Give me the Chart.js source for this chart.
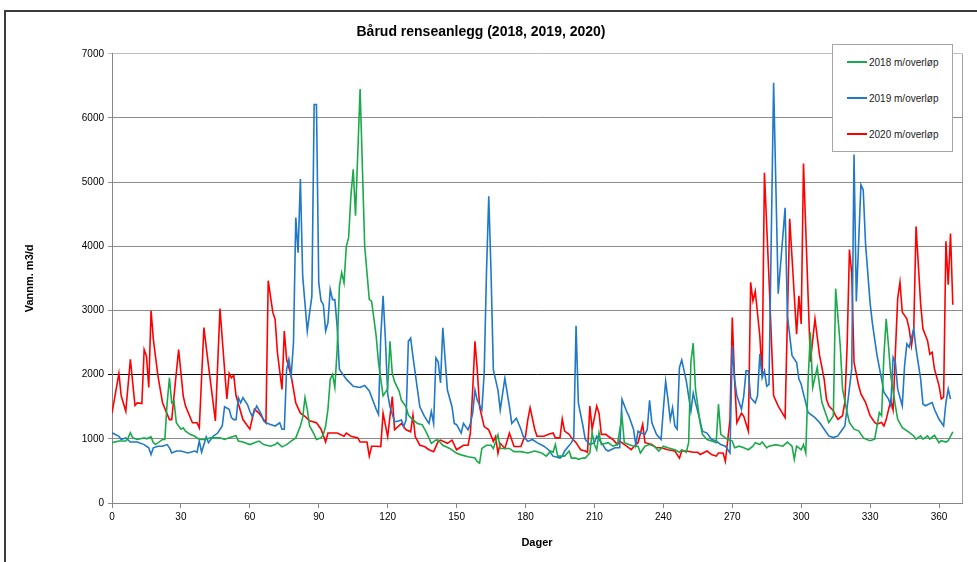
<!DOCTYPE html>
<html lang="no">

<head>
  <meta charset="UTF-8">
  <title>Bårud renseanlegg</title>
  <script src="https://cdn.jsdelivr.net/npm/chart.js"></script>
  <style>
    body {
      margin: 0;
      background-color: #ffffff;
    }

    .wrap {
      position: relative;
      width: 977px;
      height: 562px;
      overflow: hidden;
    }

    .frame {
      position: absolute;
      left: 4px;
      top: 10px;
      width: 990px;
      height: 570px;
      border-top: 2px solid #3c3c3c;
      border-left: 2px solid #3c3c3c;
      pointer-events: none;
    }

    .legend {
      position: absolute;
      left: 832px;
      top: 44px;
      width: 119px;
      height: 106px;
      border: 1px solid #a6a6a6;
      background: #fff;
    }

    .legend ul {
      list-style: none;
      margin: 0;
      padding: 0;
    }

    .legend-item {
      position: absolute;
      left: 14px;
      height: 12px;
      display: flex;
      align-items: center;
      font: 10px "Liberation Sans", Arial, sans-serif;
      color: #222;
    }

    .legend-item .color-box {
      width: 20px;
      height: 2px;
      margin-right: 2px;
    }

    .legend-item p {
      margin: 0;
    }
  </style>
</head>

<body>
  <div class="wrap">
    <canvas id="chartVann" width="977" height="562"></canvas>
    <div class="frame"></div>
    <div id="legend-container" class="legend"></div>
  </div>

  <script>
    // dag i året -> vannmengde (m3/d), lest av fra figuren
    const days2018 = [0, 3, 6, 7, 8, 9, 11, 14, 15, 17,
      18, 19, 22, 23, 24, 25, 26, 27, 28, 30,
      31, 32, 34, 36, 38, 40, 43, 45, 47, 49,
      51, 54, 55, 57, 60, 62, 64, 66, 69, 71,
      72, 74, 76, 78, 80, 82, 83, 84, 85, 86,
      88, 89, 91, 92, 93, 94, 95, 96, 97, 98,
      99, 100, 101, 102, 103, 104, 105, 106, 108, 110,
      112, 113, 115, 116, 118, 120, 121, 122, 123, 125,
      126, 128, 129, 131, 133, 135, 137, 139, 141, 142,
      144, 147, 150, 152, 155, 158, 159, 160, 161, 163,
      165, 166, 168, 169, 171, 173, 175, 178, 181, 184,
      187, 189, 191, 192, 193, 194, 197, 199, 200, 202,
      203, 205, 206, 208, 209, 210, 211, 212, 213, 216,
      218, 220, 222, 223, 225, 227, 229, 230, 232, 234,
      236, 238, 240, 242, 245, 247, 248, 250, 251, 252,
      253, 254, 256, 257, 259, 261, 263, 264, 265, 267,
      268, 270, 271, 273, 275, 277, 279, 280, 282, 283,
      285, 286, 289, 292, 294, 296, 297, 298, 300, 301,
      302, 303, 304, 305, 307, 308, 309, 311, 312, 314,
      315, 317, 318, 320, 321, 323, 325, 327, 328, 330,
      332, 333, 334, 335, 336, 337, 338, 339, 341, 342,
      344, 347, 349, 350, 352, 353, 355, 356, 358, 360,
      361, 363, 364, 366];
    const vann2018 = [940, 965, 965, 1015, 1095, 1015, 990, 1015, 1000, 1030,
      940, 910, 990, 990, 1560, 1950, 1560, 1590, 1250, 1150,
      1170, 1120, 1070, 1040, 990, 990, 1015, 1015, 1015, 990,
      1015, 1050, 965, 950, 910, 940, 965, 910, 885, 910,
      940, 875, 910, 965, 1015, 1200, 1330, 1640, 1460, 1200,
      1070, 990, 1015, 1070, 1200, 1460, 1930, 2005, 1800, 2390,
      3380, 3590, 3430, 4000, 4135, 4790, 5200, 4475, 6450, 4000,
      3170, 3145, 2600, 2190, 1670, 1780, 2520, 2020, 1890, 1740,
      1600, 1500, 1370, 1295, 1240, 1220, 1090, 930, 980, 980,
      900, 850, 775, 750, 720, 700, 645, 620, 850, 900,
      900, 850, 1060, 850, 850, 850, 800, 800, 780, 810,
      780, 730, 810, 790, 910, 730, 730, 810, 700, 700,
      680, 700, 700, 780, 1095, 910, 830, 1095, 910, 940,
      885, 910, 1355, 940, 910, 885, 885, 780, 885, 910,
      885, 810, 885, 860, 830, 790, 830, 790, 940, 2200,
      2490, 1770, 1250, 1070, 990, 965, 940, 1540, 1070, 1015,
      990, 965, 860, 885, 860, 830, 885, 940, 910, 950,
      860, 885, 910, 885, 950, 885, 680, 885, 830, 910,
      780, 1900, 2660, 1800, 2115, 1830, 1570, 1360, 1255, 1360,
      3340, 2450, 1775, 1410, 1255, 1150, 1125, 1020, 995, 970,
      995, 1200, 1410, 1360, 2295, 2870, 2450, 1985, 1515, 1305,
      1175, 1100, 1045, 995, 1045, 995, 1045, 995, 1055, 940,
      970, 950, 970, 1110];

    const days2019 = [0, 3, 4, 6, 8, 11, 14, 16, 17, 18,
      20, 22, 24, 25, 26, 28, 30, 33, 36, 37,
      38, 39, 41, 42, 44, 46, 48, 49, 51, 52,
      53, 54, 55, 56, 57, 59, 60, 61, 63, 65,
      66, 67, 69, 71, 73, 74, 75, 76, 77, 78,
      79, 80, 81, 82, 83, 85, 86, 87, 88, 89,
      90, 91, 92, 93, 94, 95, 96, 97, 98, 99,
      102, 105, 108, 110, 112, 115, 116, 117, 118, 119,
      120, 121, 123, 124, 126, 127, 128, 129, 130, 131,
      133, 134, 136, 138, 139, 140, 141, 142, 143, 144,
      146, 148, 149, 150, 152, 153, 155, 156, 157, 158,
      159, 161, 162, 163, 164, 165, 166, 168, 169, 171,
      173, 174, 176, 178, 179, 181, 183, 185, 188, 190,
      191, 192, 195, 196, 197, 200, 201, 202, 203, 205,
      206, 208, 210, 211, 213, 215, 216, 219, 221, 222,
      224, 225, 227, 228, 229, 230, 232, 233, 234, 235,
      237, 239, 240, 241, 242, 243, 244, 245, 246, 247,
      248, 250, 252, 253, 254, 256, 257, 259, 261, 263,
      265, 267, 269, 270, 271, 272, 274, 275, 276, 277,
      278, 280, 281, 282, 283, 284, 285, 286, 288, 290,
      293, 294, 296, 298, 299, 300, 301, 302, 303, 304,
      306, 308, 310, 312, 314, 316, 317, 319, 320, 322,
      323, 324, 326, 327, 328, 330, 331, 333, 335, 336,
      338, 339, 340, 341, 342, 344, 345, 346, 347, 349,
      350, 352, 353, 354, 357, 358, 360, 361, 362, 363,
      364, 365];
    const vann2019 = [1095, 1040, 990, 1015, 950, 950, 910, 860, 755, 860,
      885, 885, 910, 860, 780, 810, 810, 780, 810, 790,
      965, 790, 1030, 940, 1040, 1090, 1200, 1500, 1460, 1330,
      1300, 1300, 1640, 1560, 1640, 1530, 1430, 1350, 1510, 1380,
      1280, 1250, 1225, 1200, 1250, 1150, 1150, 2080, 2240, 1980,
      2500, 4450, 3900, 5050, 3540, 2680, 2960, 3220, 6210, 6210,
      3430, 3150, 3090, 2680, 2810, 3330, 3170, 3170, 2750, 2080,
      1930, 1820, 1800, 1830, 1745, 1460, 1380, 2600, 3230, 2560,
      1700, 1500, 1270, 1270, 1295, 1190, 1295, 2520, 2570, 2280,
      1760, 1500, 1350, 1240, 1425, 1240, 2260, 2200, 1870, 2730,
      1760, 1500, 1240, 1220, 1090, 1240, 1140, 1240, 1400, 1760,
      1600, 1450, 2020, 3580, 4780, 3580, 2075, 1760, 1450, 1945,
      1500, 1240, 1320, 1150, 1040, 960, 990, 940, 885, 830,
      780, 730, 700, 730, 810, 940, 1015, 2760, 1560, 1200,
      990, 910, 940, 1040, 940, 830, 810, 860, 860, 1615,
      1430, 1355, 1150, 910, 1120, 1095, 1070, 1150, 1600, 1250,
      1070, 990, 1460, 1900, 1620, 1300, 1485, 1200, 1150, 2110,
      2230, 1900, 1430, 1710, 1560, 1280, 1120, 1090, 990, 965,
      910, 885, 780, 2450, 1930, 1670, 1460, 1670, 2060, 2060,
      1640, 1560, 1670, 2320, 1950, 2060, 1820, 1850, 6550, 3260,
      4600, 2920, 2300, 2190, 1930, 1850, 1700, 1560, 1410, 1385,
      1330, 1255, 1150, 1045, 1020, 1045, 1100, 1200, 1490, 2090,
      5430, 3140, 4960, 4880, 4050, 3115, 2800, 2300, 1930, 1725,
      1620, 1515, 2270, 2190, 1775, 1515, 2140, 2480, 2430, 2715,
      2400, 1930, 1540, 1515, 1565, 1460, 1305, 1255, 1200, 1565,
      1775, 1620];

    const days2020 = [0, 3, 4, 6, 8, 10, 11, 13, 14, 15,
      16, 17, 18, 20, 22, 25, 26, 27, 29, 31,
      32, 35, 37, 38, 40, 42, 45, 47, 49, 50,
      51, 52, 53, 54, 57, 60, 62, 64, 65, 67,
      68, 70, 71, 72, 74, 75, 76, 78, 80, 82,
      84, 86, 89, 90, 91, 93, 94, 98, 101, 102,
      104, 107, 108, 111, 112, 113, 115, 117, 118, 120,
      121, 122, 123, 126, 128, 130, 131, 132, 134, 136,
      138, 140, 142, 143, 146, 148, 150, 153, 155, 156,
      157, 158, 159, 160, 162, 164, 166, 167, 168, 169,
      171, 173, 175, 178, 179, 180, 181, 182, 184, 185,
      188, 190, 192, 193, 195, 196, 197, 199, 200, 202,
      204, 206, 207, 208, 209, 211, 212, 213, 215, 216,
      218, 220, 221, 224, 226, 228, 229, 231, 232, 235,
      237, 239, 242, 245, 247, 248, 250, 253, 255, 256,
      259, 261, 263, 264, 266, 267, 269, 270, 271, 272,
      274, 275, 277, 278, 279, 280, 282, 283, 284, 286,
      288, 290, 293, 295, 298, 299, 300, 301, 304, 306,
      308, 310, 311, 312, 314, 315, 316, 318, 319, 320,
      321, 322, 323, 325, 326, 328, 329, 330, 332, 333,
      335, 336, 337, 338, 339, 340, 341, 342, 343, 344,
      346, 347, 348, 349, 350, 352, 353, 355, 356, 357,
      358, 360, 361, 362, 363, 364, 365, 366];
    const vann2020 = [1400, 2020, 1670, 1430, 2240, 1520, 1560, 1550, 2390, 2290,
      1800, 3000, 2550, 1980, 1560, 1300, 1300, 1670, 2390, 1670,
      1510, 1250, 1250, 1170, 2735, 2140, 1280, 3030, 2080, 1620,
      2020, 1950, 1990, 1670, 1300, 1150, 1460, 1400, 1350, 1250,
      3465, 2970, 2865, 2345, 1770, 2680, 2240, 1980, 1560, 1400,
      1350, 1280, 1250, 1200, 1150, 950, 1090, 1090, 1040, 1090,
      1040, 1015, 950, 950, 730, 885, 885, 880, 1400, 1035,
      1350, 1660, 1140, 1240, 1140, 1110, 1370, 1035, 900, 880,
      830, 800, 960, 980, 930, 980, 830, 900, 900, 1090,
      1760, 2520, 2075, 1500, 1190, 1140, 960, 1035, 775, 930,
      850, 1090, 880, 880, 980, 1040, 1300, 1485, 1150, 1040,
      1040, 1070, 1090, 1015, 1015, 1310, 1120, 1070, 1015, 940,
      830, 810, 790, 1510, 1150, 1510, 1400, 1070, 1070, 1040,
      990, 910, 965, 885, 830, 910, 940, 1225, 940, 910,
      860, 860, 830, 810, 700, 810, 810, 790, 790, 755,
      810, 755, 730, 780, 780, 650, 1300, 2890, 1930, 1250,
      1400, 1350, 1120, 3440, 3150, 3300, 2600, 1980, 5145, 3480,
      1670, 1510, 1330, 4430, 2630, 3230, 2790, 5290, 2200, 2870,
      2300, 1930, 1620, 1515, 1440, 1360, 1305, 1360, 1570, 2450,
      3950, 3580, 2190, 1830, 1700, 1570, 1465, 1360, 1255, 1230,
      1255, 1200, 1300, 1450, 1600, 1450, 2350, 3180, 3440, 2975,
      2870, 2715, 2450, 2715, 4310, 3100, 2715, 2530, 2320, 2350,
      2090, 1830, 1620, 1650, 4080, 3400, 4200, 3090];

    const seriesLabels = ['2018 m/overløp', '2019 m/overløp', '2020 m/overløp'];
    const seriesColors = ['#1aaa4b', '#1f78c8', '#ff0000'];
    const xTickLabels = [0, 30, 60, 90, 120, 150, 180, 210, 240, 270, 300, 330, 360];
    const yTickStep = 1000;

    const toPoints = (days, vals) => days.map((d, i) => ({ x: d, y: vals[i] }));

    Chart.defaults.font.family = '"Liberation Sans", Arial, sans-serif';

    const getOrCreateLegendList = (chart, id) => {
      const legendContainer = document.getElementById(id);
      let listContainer = legendContainer.querySelector('ul');
      if (!listContainer) {
        listContainer = document.createElement('ul');
        legendContainer.appendChild(listContainer);
      }
      return listContainer;
    };

    const htmlLegendPlugin = {
      id: 'htmlLegend',
      afterUpdate(chart, args, options) {
        const ul = getOrCreateLegendList(chart, options.containerID);
        while (ul.firstChild) {
          ul.firstChild.remove();
        }
        const items = chart.options.plugins.legend.labels.generateLabels(chart);
        items.forEach((item, i) => {
          const li = document.createElement('li');
          li.classList.add('legend-item');
          li.style.top = (11 + i * 36) + 'px';

          const boxSpan = document.createElement('span');
          boxSpan.classList.add('color-box');
          boxSpan.style.background = item.strokeStyle;

          const textContainer = document.createElement('p');
          textContainer.appendChild(document.createTextNode(item.text));

          li.appendChild(boxSpan);
          li.appendChild(textContainer);
          ul.appendChild(li);
        });
      }
    };

    // høyre kant på plotteområdet
    const plotBorder = {
      id: 'plotBorder',
      beforeDatasetsDraw(chart) {
        const { ctx, chartArea } = chart;
        ctx.save();
        ctx.strokeStyle = '#a0a0a0';
        ctx.lineWidth = 1;
        ctx.beginPath();
        ctx.moveTo(chartArea.right + 0.5, chartArea.top);
        ctx.lineTo(chartArea.right + 0.5, chartArea.bottom);
        ctx.stroke();
        ctx.restore();
      }
    };

    const ctxVann = document.getElementById('chartVann');
    const DataVann = {
      type: 'line',
      data: {
        datasets: [{
          label: seriesLabels[0],
          data: toPoints(days2018, vann2018),
          borderColor: seriesColors[0],
          backgroundColor: seriesColors[0]
        }, {
          label: seriesLabels[1],
          data: toPoints(days2019, vann2019),
          borderColor: seriesColors[1],
          backgroundColor: seriesColors[1]
        }, {
          label: seriesLabels[2],
          data: toPoints(days2020, vann2020),
          borderColor: seriesColors[2],
          backgroundColor: seriesColors[2]
        }]
      },
      options: {
        responsive: false,
        animation: false,
        layout: {
          padding: { left: 0, right: 15, top: 0, bottom: 0 }
        },
        elements: {
          point: { radius: 0 },
          line: { borderWidth: 1.6, tension: 0 }
        },
        plugins: {
          legend: { display: false },
          tooltip: { enabled: false },
          htmlLegend: { containerID: 'legend-container' },
          title: {
            display: true,
            text: 'Bårud renseanlegg (2018, 2019, 2020)',
            color: '#000',
            font: { size: 14, weight: 'bold' },
            padding: { top: 24, bottom: 13 }
          }
        },
        scales: {
          x: {
            type: 'linear',
            min: 0,
            max: 370,
            afterBuildTicks: (scale) => {
              scale.ticks = xTickLabels.map(v => ({ value: v }));
            },
            afterFit: (scale) => { scale.height = 59; },
            ticks: {
              color: '#000',
              font: { size: 10 },
              padding: 3,
              maxRotation: 0,
              autoSkip: false,
              callback: (v) => String(v)
            },
            grid: {
              drawOnChartArea: false,
              drawTicks: true,
              tickLength: 5,
              color: '#868686'
            },
            border: { color: '#868686' },
            title: {
              display: true,
              text: 'Dager',
              color: '#000',
              font: { size: 11, weight: 'bold' },
              padding: { top: 0, bottom: 12 }
            }
          },
          y: {
            min: 0,
            max: 7000,
            afterFit: (scale) => { scale.width = 112; },
            ticks: {
              stepSize: yTickStep,
              color: '#000',
              font: { size: 10 },
              padding: 4,
              callback: (v) => String(v)
            },
            grid: {
              color: (c) => c.tick && c.tick.value === 2000 ? '#000000'
                : (c.tick && c.tick.value === 7000 ? '#bdbdbd' : '#8c8c8c'),
              lineWidth: 1,
              tickLength: 4
            },
            border: { color: '#868686' },
            title: {
              display: true,
              text: 'Vannm. m3/d',
              color: '#000',
              font: { size: 11, weight: 'bold' },
              padding: { top: 23, bottom: 0 }
            }
          }
        }
      },
      plugins: [htmlLegendPlugin, plotBorder]
    };
    const vannChart = new Chart(ctxVann, DataVann);
  </script>
</body>

</html>
